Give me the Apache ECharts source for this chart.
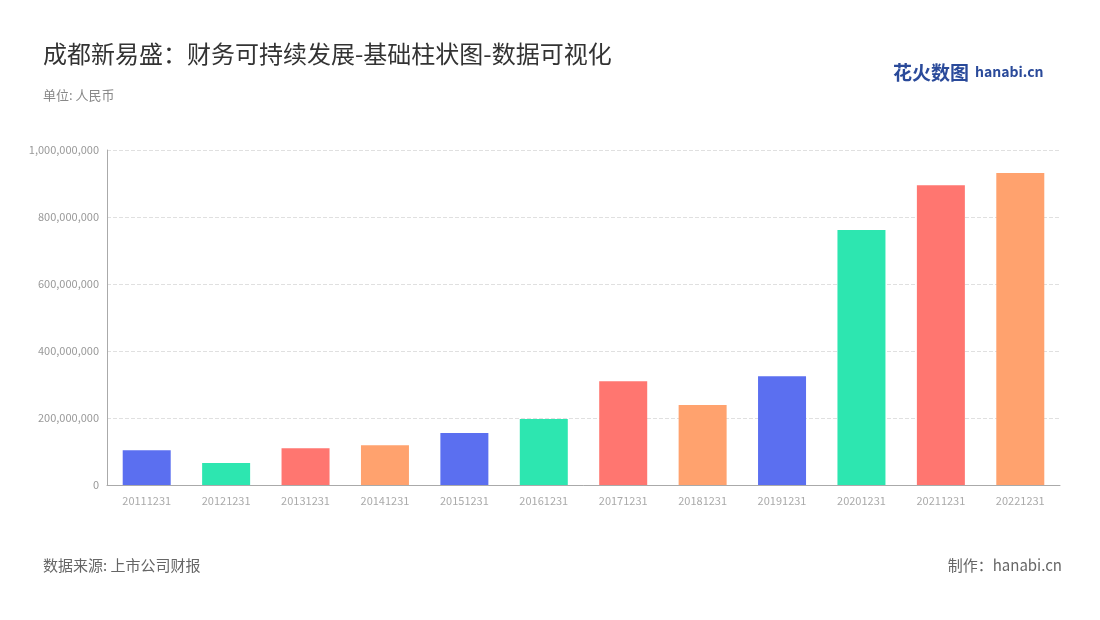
<!DOCTYPE html>
<html><head><meta charset="utf-8">
<script src="https://cdn.jsdelivr.net/npm/echarts@6/dist/echarts.min.js"></script>
<style>html,body{margin:0;padding:0;background:#fff}#c{width:1100px;height:620px}</style>
</head><body><div id="c"></div>
<script>
const categories = ['20111231','20121231','20131231','20141231','20151231','20161231','20171231','20181231','20191231','20201231','20211231','20221231'];
const values = [104000000,66000000,110000000,119000000,155000000,197000000,310000000,239000000,325000000,761000000,895000000,931000000];
const palette = ['#5B6FF0','#2DE6B0','#FF7670','#FFA26E'];
const chart = echarts.init(document.getElementById('c'));
const F = '"Noto Sans CJK SC","Noto Sans",sans-serif';
chart.setOption({
  textStyle:{fontFamily:F},
  title:[
    {text:'成都新易盛：财务可持续发展-基础柱状图-数据可视化',left:38,top:37,textStyle:{fontSize:24,fontWeight:'normal',color:'#333',fontFamily:F}},
    {text:'单位: 人民币',left:38,top:84,textStyle:{fontSize:13,fontWeight:'normal',color:'#888',fontFamily:F}},
    {text:'数据来源: 上市公司财报',left:38,top:553,textStyle:{fontSize:15,fontWeight:'normal',color:'#666',fontFamily:F}},
    {text:'制作：hanabi.cn',right:33,top:553,textStyle:{fontSize:15,fontWeight:'normal',color:'#666',fontFamily:F}},
    {text:'花火数图',left:888,top:58,textStyle:{fontSize:19,fontWeight:'bold',color:'#2a4a9a',fontFamily:F}},
    {text:'hanabi.cn',left:970,top:60,textStyle:{fontSize:14,fontWeight:'bold',color:'#2a4a9a',fontFamily:F}}
  ],
  grid:{left:107,right:40,top:150,bottom:135},
  xAxis:{type:'category',data:categories,axisTick:{show:false},
    axisLine:{lineStyle:{color:'#aaa'}},axisLabel:{color:'#aaa',fontSize:11,margin:10}},
  yAxis:{type:'value',min:0,max:1000000000,interval:200000000,
    axisLabel:{color:'#999',fontSize:11,formatter:v=>v.toLocaleString('en-US')},
    axisLine:{show:true,lineStyle:{color:'#aaa'}},
    splitLine:{lineStyle:{type:'dashed',color:'#e0e0e0'}}},
  series:[{type:'bar',barWidth:48,
    data:values.map((v,i)=>({value:v,itemStyle:{color:palette[i%4]}}))}]
});
</script></body></html>
